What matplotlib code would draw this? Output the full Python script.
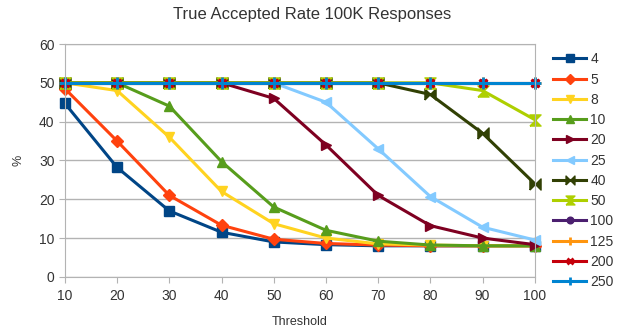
import numpy as np
import matplotlib
matplotlib.use("Agg")
import matplotlib.pyplot as plt

plt.rcParams['font.family'] = ['Liberation Sans', 'DejaVu Sans']

threshold = [10, 20, 30, 40, 50, 60, 70, 80, 90, 100]

labels = ['4', '5', '8', '10', '20', '25', '40', '50', '100', '125', '200', '250']
series = [
    [44.7, 28.2, 17.0, 11.5, 9.0, 8.3, 8.0, 8.0, 8.0, 8.0],
    [48.5, 35.0, 21.0, 13.3, 9.7, 8.6, 8.2, 8.0, 8.0, 8.0],
    [50.0, 48.0, 36.0, 22.0, 13.7, 10.0, 8.5, 8.2, 8.0, 8.0],
    [50.0, 50.0, 44.0, 29.7, 18.0, 12.0, 9.2, 8.2, 8.0, 8.0],
    [50.0, 50.0, 50.0, 50.0, 46.0, 34.0, 21.0, 13.2, 10.0, 8.3],
    [50.0, 50.0, 50.0, 50.0, 50.0, 45.0, 33.0, 20.7, 12.8, 9.5],
    [50.0, 50.0, 50.0, 50.0, 50.0, 50.0, 50.0, 47.0, 37.0, 24.0],
    [50.0, 50.0, 50.0, 50.0, 50.0, 50.0, 50.0, 50.0, 48.0, 40.5],
    [50.0] * 10,
    [50.0] * 10,
    [50.0] * 10,
    [50.0] * 10,
]

colors = ['#004586', '#ff420e', '#ffd320', '#579d1c', '#7e0021', '#83caff',
          '#314004', '#aecf00', '#4b1f6f', '#ff950e', '#c5000b', '#0084d1']

bowtie = [(-1, -1), (-1, 1), (1, -1), (1, 1), (-1, -1)]
hourglass = [(-1, -1), (1, -1), (-1, 1), (1, 1), (-1, -1)]
markers = ['s', 'D', 'v', '^', '>', '<', bowtie, hourglass, 'o', '+', 'x', '+']
msizes = [7, 6, 7, 7, 7, 7, 8, 8, 6, 8, 6, 8]

fig = plt.figure(figsize=(6.24, 3.36), dpi=100)
ax = fig.add_axes([0.104, 0.176, 0.753, 0.693])

for i in range(len(labels)):
    ax.plot(threshold, series[i], color=colors[i], lw=2.2, marker=markers[i],
            ms=msizes[i], mew=2 if markers[i] in ('+', 'x') else 1,
            mec=colors[i], label=labels[i], clip_on=False)

ax.set_xlim(10, 100)
ax.set_ylim(0, 60)
ax.set_xticks(threshold)
ax.set_yticks(range(0, 61, 10))
ax.grid(axis='y', color='#b3b3b3', lw=1)
ax.set_axisbelow(True)
for s in ['top', 'right', 'left', 'bottom']:
    ax.spines[s].set_color('#b3b3b3')
ax.tick_params(colors='#b3b3b3', labelcolor='#333333', labelsize=10, length=4,
               direction='out')
ax.tick_params(axis='x', pad=5)

ax.set_xlabel('Threshold', fontsize=9, color='#333333', labelpad=9)
ax.set_ylabel('%', fontsize=9, color='#333333', labelpad=10)
fig.suptitle('True Accepted Rate 100K Responses', fontsize=12, color='#333333', y=0.98)

leg = ax.legend(loc='upper left', bbox_to_anchor=(1.021, 1.0), frameon=False,
                fontsize=10, handlelength=2.4, labelspacing=0.45,
                handletextpad=0.3, borderaxespad=0.0, markerscale=0.8,
                borderpad=0.6)
for t in leg.get_texts():
    t.set_color('#333333')

fig.savefig('out.png', dpi=100)
